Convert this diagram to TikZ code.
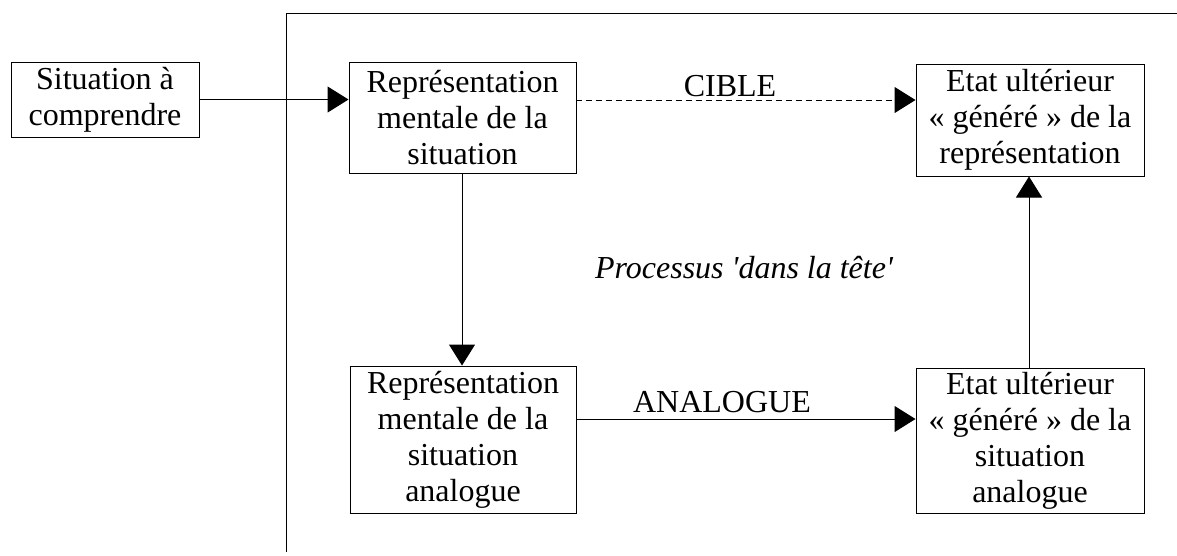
\documentclass[tikz,border=0pt]{standalone}
\usepackage{fontspec}
\setmainfont{Liberation Serif}[Ligatures=TeXOff]
\usetikzlibrary{arrows.meta}
\begin{document}
\begin{tikzpicture}[x=1pt,y=-1pt,
  every node/.style={font=\fontsize{32}{36}\selectfont},
  box/.style={draw,line width=1pt,rectangle,inner sep=0pt,align=center},
  conn/.style={line width=1pt,-{Triangle[length=21pt,width=26pt]}},
  lbl/.style={inner sep=0pt}]
\useasboundingbox (0,0) rectangle (1177,555);
% frame
\coordinate (fb) at (286,552);
\coordinate (fc) at (286,13);
\coordinate (fr) at (1177,13);
\draw[line width=1pt] (fb) -- (fc) -- (fr);
% nodes
\node[box,minimum width=188pt,minimum height=75pt] (sit) at (105,99.5) {Situation à\\comprendre};
\node[box,minimum width=227pt,minimum height=111pt] (rep) at (462.5,117.5) {Représentation\\mentale de la\\situation};
\node[box,minimum width=228pt,minimum height=112pt] (etat) at (1030,120) {Etat ultérieur\\« généré » de la\\représentation};
\node[box,minimum width=226pt,minimum height=147pt] (repa) at (463,439.5) {Représentation\\mentale de la\\situation\\analogue};
\node[box,minimum width=228pt,minimum height=145pt] (etata) at (1030,440.5) {Etat ultérieur\\« généré » de la\\situation\\analogue};
% labels
\node[lbl] (cible) at (730,86) {CIBLE};
\node[lbl] (analogue) at (722,402) {ANALOGUE};
\node[lbl,font=\fontsize{32}{36}\selectfont\itshape] (proc) at (744,268) {Processus 'dans la tête'};
% connectors
\draw[conn] (sit.east) -- (sit.east -| rep.west);
\draw[conn,dashed,dash pattern=on 6pt off 4pt] (rep.west |- 0,100) ++(227,0) -- (etat.west |- 0,100);
\draw[conn] (rep.south -| 462,0) -- (repa.north -| 462,0);
\draw[conn] (repa.east |- 0,419) -- (etata.west |- 0,419);
\draw[conn] (etata.north -| 1029,0) -- (etat.south -| 1029,0);
\end{tikzpicture}
\end{document}
